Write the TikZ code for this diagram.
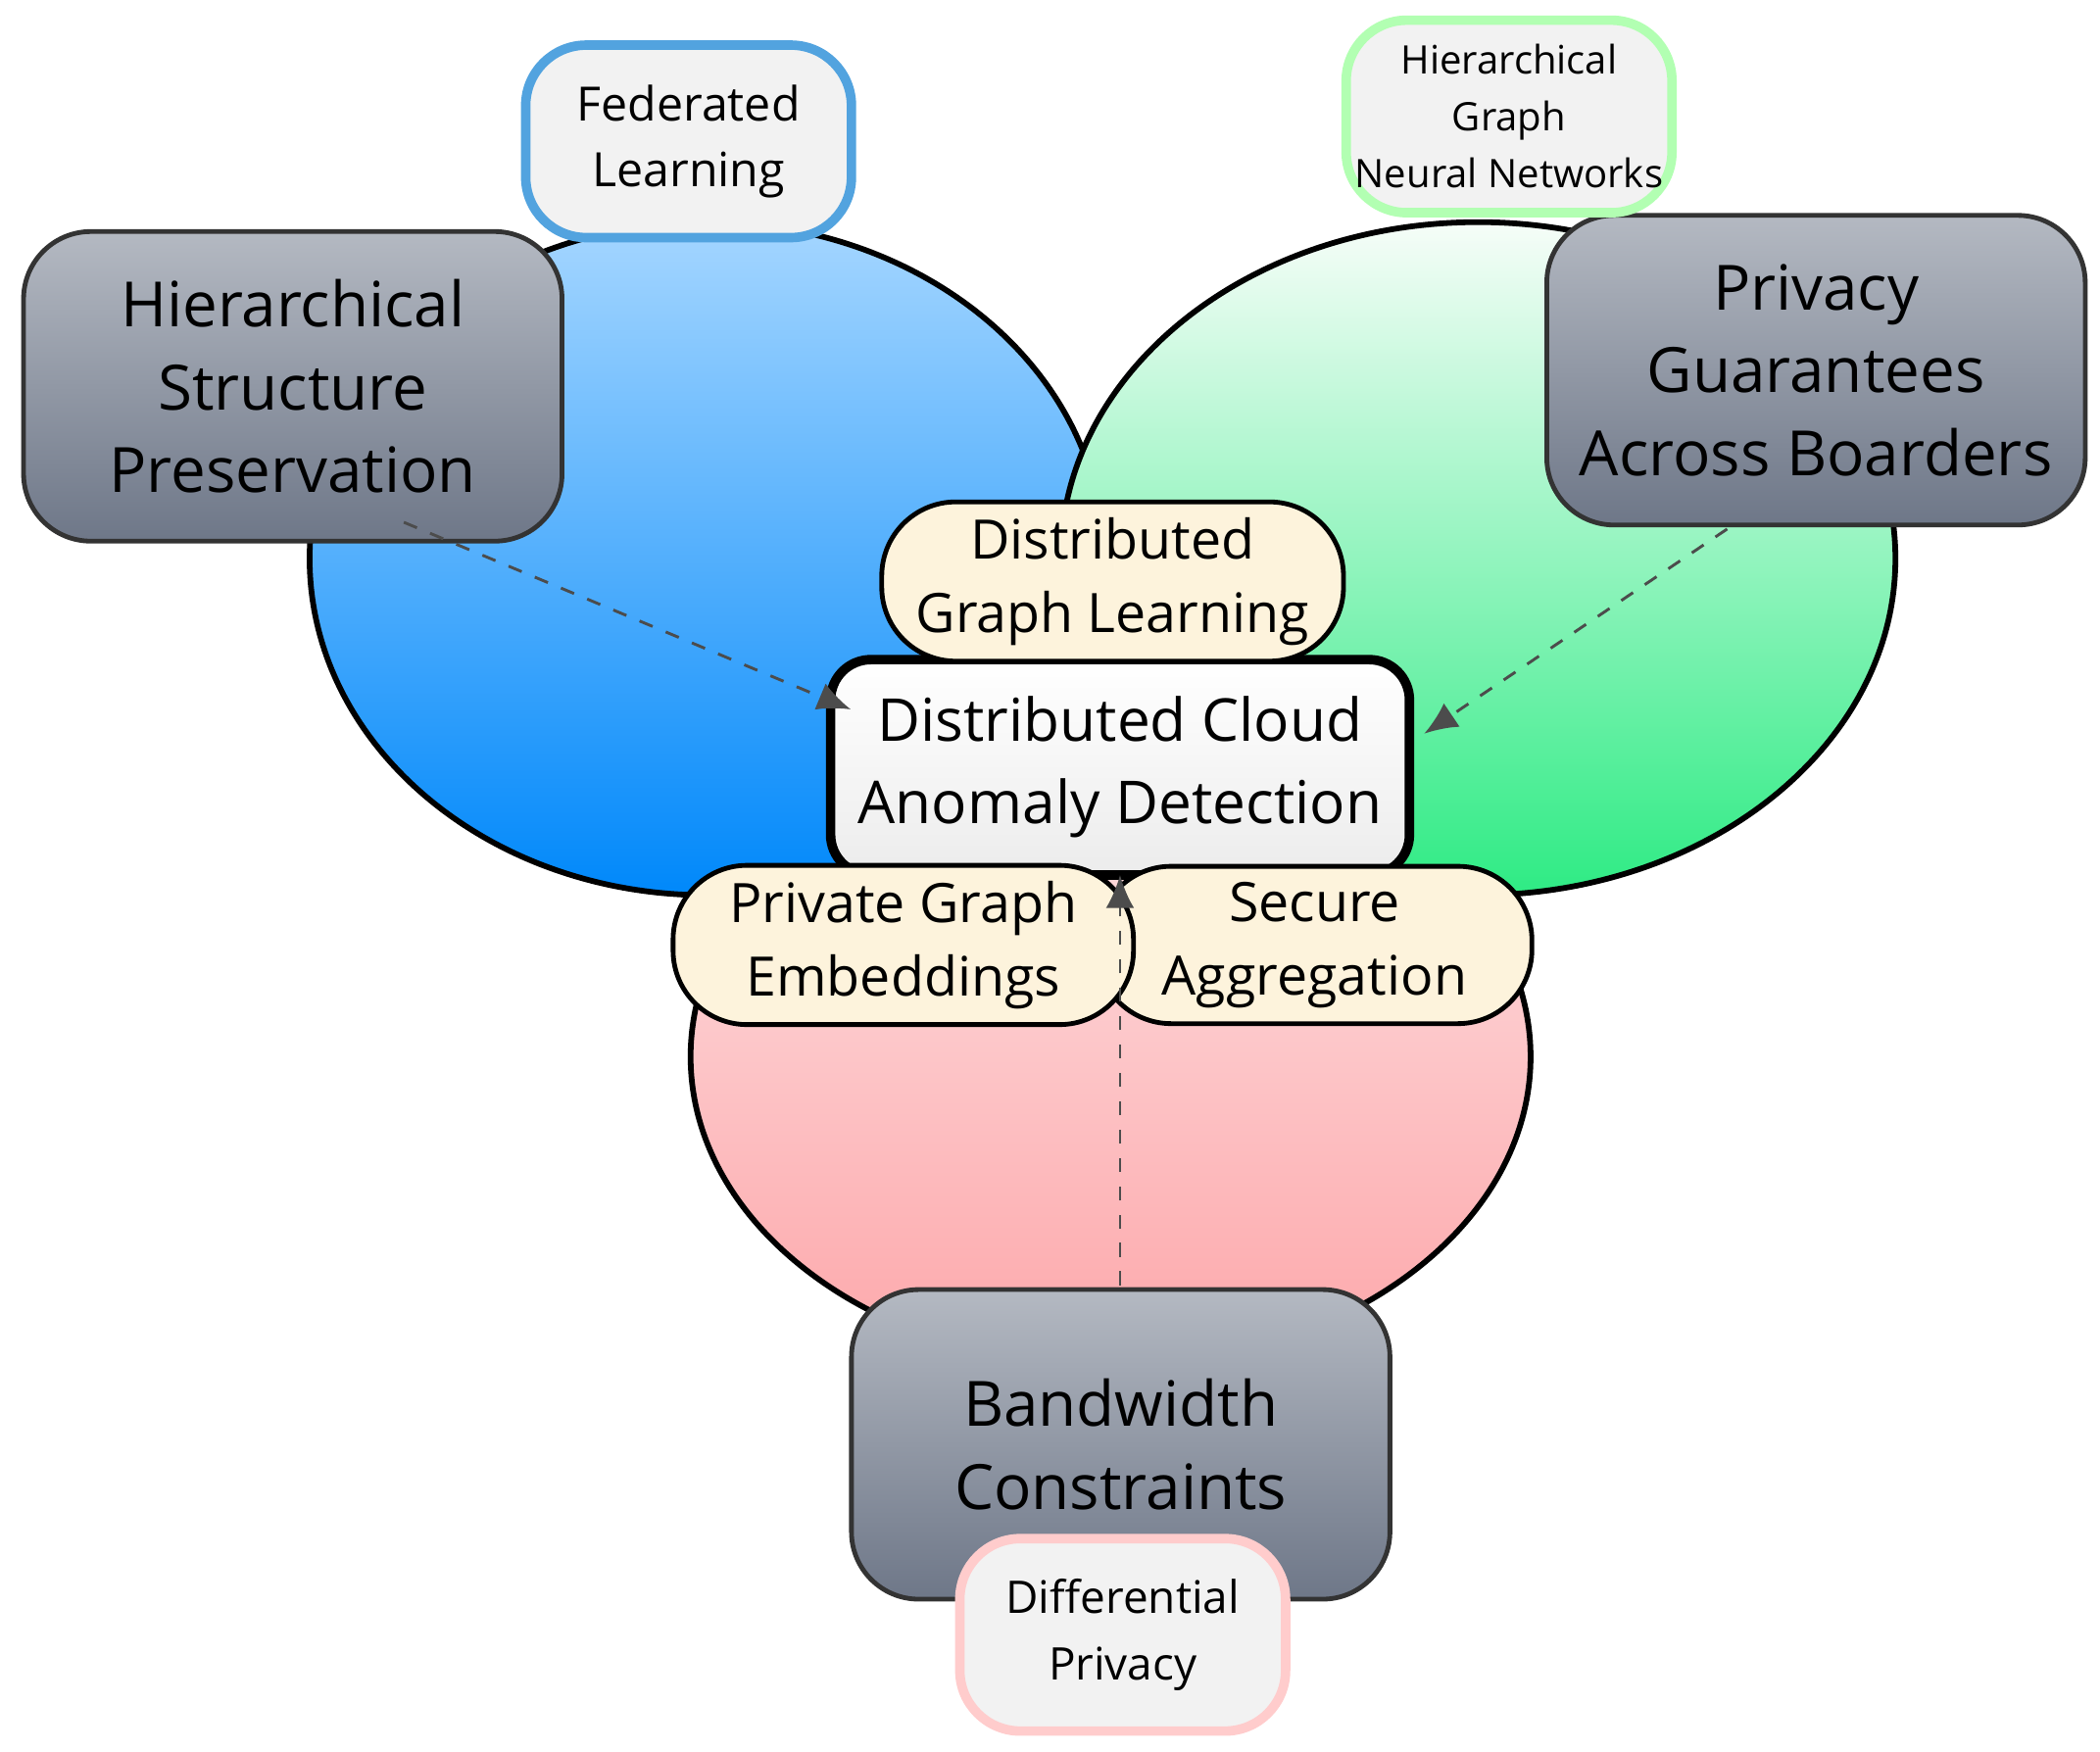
\documentclass[tikz,border=0pt]{standalone}
\usepackage{fontspec}
\setmainfont{Open Sans}
\usetikzlibrary{arrows.meta}
\definecolor{gtop}{HTML}{B4B9C2}
\definecolor{gbot}{HTML}{6E7788}
\definecolor{beige}{HTML}{FDF3DC}
\definecolor{btop}{HTML}{A5D6FF}
\definecolor{bbot}{HTML}{0088FA}
\definecolor{gntop}{HTML}{F6FDF8}
\definecolor{gnbot}{HTML}{2EEB84}
\definecolor{ptop}{HTML}{FDE3E5}
\definecolor{pbot}{HTML}{FDA7AA}
\begin{document}
\begin{tikzpicture}[x=1cm,y=-1cm,
 gray/.style={draw=black!80,line width=1pt,rounded corners=0.5cm,top color=gtop,bottom color=gbot,align=center,font=\fontsize{13.2}{17.5}\selectfont,minimum width=4.0cm,minimum height=2.3cm},
 tag/.style={line width=2pt,rounded corners=0.45cm,fill=gray!10,align=center,minimum width=2.42cm,minimum height=1.43cm},
 pill/.style={draw=black,line width=1pt,rounded corners=0.55cm,fill=beige,align=center,font=\fontsize{11.5}{15.5}\selectfont,minimum height=1.1cm},
 arr/.style={dashed,draw=black!70,line width=0.6pt,-{Latex[length=7pt,width=6pt]}}]
\useasboundingbox (0,0) rectangle (15.6,13.01);
\fill[white] (0,0) rectangle (15.6,13.01);
\draw[line width=1.2pt,top color=ptop,bottom color=pbot] (8.25,7.85) ellipse (3.12 and 2.3);
\draw[line width=1.2pt,top color=btop,bottom color=bbot] (5.25,4.15) ellipse (2.95 and 2.5);
\draw[line width=1.2pt,top color=gntop,bottom color=gnbot] (10.98,4.15) ellipse (3.1 and 2.5);
\node[gray] (hsp) at (2.175,2.87) {Hierarchical\\Structure\\Preservation};
\node[gray] (pg) at (13.49,2.75) {Privacy\\Guarantees\\Across Boarders};
\node[gray] (bw) at (8.325,10.73) {Bandwidth\\Constraints};
\node[tag,draw=cyan!70!blue!70,font=\fontsize{10}{14}\selectfont] (fl) at (5.115,1.05) {Federated\\Learning};
\node[tag,draw=green!30,font=\fontsize{8.3}{12}\selectfont,inner sep=1pt] (hg) at (11.21,0.865) {Hierarchical\\Graph\\Neural Networks};
\node[tag,draw=red!20,font=\fontsize{9.5}{14}\selectfont] (dp) at (8.34,12.145) {Differential\\Privacy};
\node[draw=black,line width=2pt,rounded corners=0.3cm,top color=white,bottom color=gray!15,align=center,font=\fontsize{12.5}{17.5}\selectfont,minimum width=4.3cm,minimum height=1.6cm] (dc) at (8.32,5.7) {Distributed Cloud\\Anomaly Detection};
\node[pill,minimum width=3.43cm] (dgl) at (8.265,4.32) {Distributed\\Graph Learning};
\node[pill,minimum width=3.23cm] (sa) at (9.765,7.02) {Secure\\Aggregation};
\node[pill,minimum width=3.42cm] (pe) at (6.71,7.02) {Private Graph\\Embeddings};
\coordinate (a1) at (3.0,3.88);
\coordinate (a2) at (12.83,3.93);
\coordinate (a3) at (8.32,9.55);
\draw[arr] (a1) -- (6.32,5.27);
\draw[arr] (a2) -- (10.58,5.45);
\draw[arr] (a3) -- (8.32,6.5);
\end{tikzpicture}
\end{document}
